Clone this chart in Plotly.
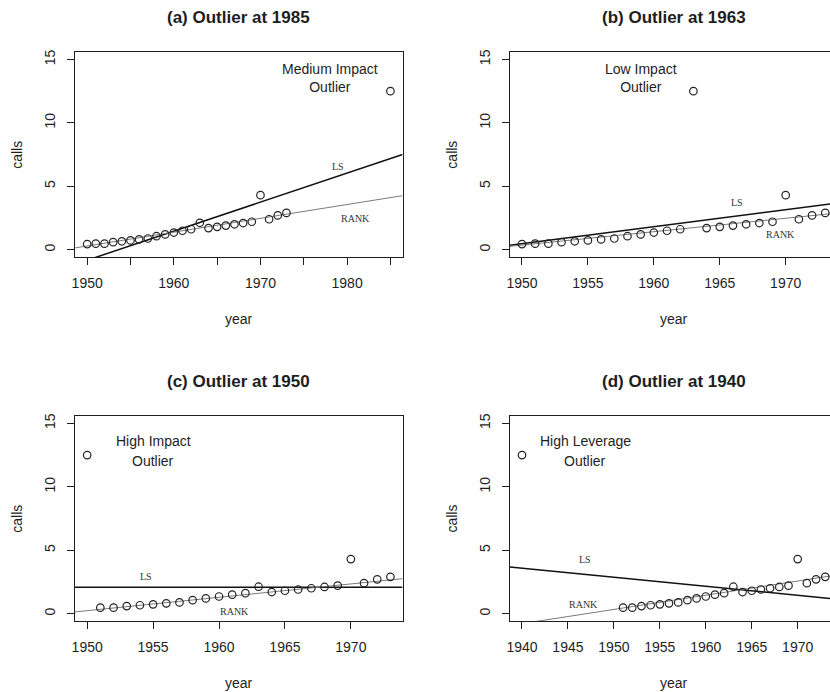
import numpy as np
import plotly.graph_objects as go

# ---------------- data ----------------
years = list(range(1950, 1974))
calls = [0.44, 0.47, 0.47, 0.59, 0.66, 0.73, 0.81, 0.88, 1.06, 1.20, 1.35, 1.49,
         1.61, 2.12, 1.70, 1.80, 1.90, 2.00, 2.10, 2.20, 4.30, 2.40, 2.70, 2.90]
outlier_calls = 12.5
panel_titles = ["(a) Outlier at 1985", "(b) Outlier at 1963",
                "(c) Outlier at 1950", "(d) Outlier at 1940"]
outlier_year = [1985, 1963, 1950, 1940]
dropped_year = [None, 1963, 1950, 1950]
note_line1 = ["Medium Impact", "Low Impact", "High Impact", "High Leverage"]
note_line2 = ["Outlier", "Outlier", "Outlier", "Outlier"]
# rank-based fit: value at 1950 and slope
rank_at_1950 = [0.29, 0.36, 0.23, 0.33]
rank_slope = [0.109, 0.1057, 0.1055, 0.112]
x_tickvals = [[1950, 1955, 1960, 1965, 1970, 1975, 1980, 1985],
              [1950, 1955, 1960, 1965, 1970],
              [1950, 1955, 1960, 1965, 1970],
              [1940, 1945, 1950, 1955, 1960, 1965, 1970]]
x_ticktext = [["1950", "", "1960", "", "1970", "", "1980", ""],
              ["1950", "1955", "1960", "1965", "1970"],
              ["1950", "1955", "1960", "1965", "1970"],
              ["1940", "1945", "1950", "1955", "1960", "1965", "1970"]]
y_tickvals = [0, 5, 10, 15]
y_ticktext = ["0", "5", "10", "15"]

# ---------------- layout geometry (pixels) ----------------
W, H = 830, 692
panel_w = 328.7
lefts = [72.3, 508.7, 72.3, 508.7]
tops = [50, 50, 415, 415]
panel_h = 206
# label positions in data coords
note_pos = [(1978.07, 14.08, 13.0), (1959.0, 14.08, 13.0),
            (1955.0, 13.6, 12.0), (1946.9, 13.6, 12.0)]
note_joined = [True, True, False, False]
ls_pos = [(1978.9, 6.55), (1966.3, 3.74), (1954.5, 2.93), (1946.9, 4.25)]
rank_pos = [(1981.0, 2.43), (1969.6, 1.23), (1961.2, 0.13), (1946.65, 0.71)]

SANS = "Liberation Sans, Arial, Helvetica, sans-serif"
SERIF = "Liberation Serif, Times New Roman, serif"
INK = "#1e1e1e"

fig = go.Figure()
annotations = []

for i in range(4):
    # panel data
    px_, py_ = [], []
    for yr, c in zip(years, calls):
        if yr == dropped_year[i]:
            continue
        px_.append(yr)
        py_.append(c)
    px_.append(outlier_year[i])
    py_.append(outlier_calls)
    xs = np.array(px_, dtype=float)
    ys = np.array(py_, dtype=float)

    # R-style ranges (4% expansion)
    lo, hi = xs.min(), xs.max()
    pad = 0.04 * (hi - lo)
    r_lo, r_hi = lo - pad, hi + pad
    left_px = lefts[i]
    right_px = min(left_px + panel_w, W)
    vis = (right_px - left_px) / panel_w
    x_range = [r_lo, r_lo + (r_hi - r_lo) * vis]
    y_range = [-0.6, 15.6]

    sfx = "" if i == 0 else str(i + 1)
    xa, ya = "x" + sfx, "y" + sfx

    # least squares fit
    b1, b0 = np.polyfit(xs, ys, 1)
    line_x = np.array([r_lo, r_hi])
    fig.add_trace(go.Scatter(x=line_x, y=b0 + b1 * line_x, mode="lines",
                             line=dict(color="#111111", width=1.5),
                             xaxis=xa, yaxis=ya, showlegend=False, hoverinfo="skip"))
    # rank fit
    fig.add_trace(go.Scatter(x=line_x, y=rank_at_1950[i] + rank_slope[i] * (line_x - 1950),
                             mode="lines", line=dict(color="#7a7a7a", width=1),
                             xaxis=xa, yaxis=ya, showlegend=False, hoverinfo="skip"))
    # points
    fig.add_trace(go.Scatter(x=xs, y=ys, mode="markers",
                             marker=dict(symbol="circle-open", size=7.5,
                                         color="#222222", line=dict(width=1.2)),
                             xaxis=xa, yaxis=ya, showlegend=False, cliponaxis=False))

    dom_x = [left_px / W, right_px / W]
    dom_y = [1 - (tops[i] + panel_h) / H, 1 - tops[i] / H]
    right_panel = i in (1, 3)
    axis_common = dict(showline=True, linecolor=INK, linewidth=1,
                       ticks="outside", ticklen=7, tickwidth=1, tickcolor=INK,
                       showgrid=False, zeroline=False,
                       tickfont=dict(family=SANS, size=14, color=INK))
    fig.update_layout(**{
        "xaxis" + sfx: dict(domain=dom_x, range=x_range, anchor=ya, mirror=True,
                            tickmode="array", tickvals=x_tickvals[i],
                            ticktext=x_ticktext[i], ticklabelstandoff=6,
                            **axis_common),
        "yaxis" + sfx: dict(domain=dom_y, range=y_range, anchor=xa,
                            mirror=not right_panel,
                            tickmode="array", tickvals=y_tickvals,
                            ticktext=y_ticktext, tickangle=-90,
                            ticklabelstandoff=6, **axis_common),
    })

    cx = left_px + panel_w / 2
    # panel title
    annotations.append(dict(text="<b>" + panel_titles[i] + "</b>", xref="paper", yref="paper",
                            x=cx / W, y=1 - (tops[i] - 34.5) / H, showarrow=False,
                            xanchor="center", yanchor="middle",
                            font=dict(family=SANS, size=17, color=INK)))
    # axis titles
    annotations.append(dict(text="year", xref="paper", yref="paper",
                            x=cx / W, y=1 - (tops[i] + panel_h + 61.7) / H,
                            showarrow=False, xanchor="center", yanchor="middle",
                            font=dict(family=SANS, size=14, color=INK)))
    annotations.append(dict(text="calls", xref="paper", yref="paper",
                            x=(left_px - 59) / W, y=1 - (tops[i] + panel_h / 2) / H,
                            showarrow=False, xanchor="center", yanchor="middle",
                            textangle=-90, font=dict(family=SANS, size=14, color=INK)))
    # notes
    nx, ny1, ny2 = note_pos[i]
    if note_joined[i]:
        annotations.append(dict(text=note_line1[i] + "<br>" + note_line2[i],
                                xref=xa, yref=ya, x=nx, y=(ny1 + ny2) / 2,
                                showarrow=False, xanchor="center", yanchor="middle",
                                align="center",
                                font=dict(family=SANS, size=14, color=INK)))
    else:
        annotations.append(dict(text=note_line1[i], xref=xa, yref=ya, x=nx, y=ny1,
                                showarrow=False, xanchor="center", yanchor="middle",
                                font=dict(family=SANS, size=14, color=INK)))
        annotations.append(dict(text=note_line2[i], xref=xa, yref=ya, x=nx, y=ny2,
                                showarrow=False, xanchor="center", yanchor="middle",
                                font=dict(family=SANS, size=14, color=INK)))
    annotations.append(dict(text="LS", xref=xa, yref=ya, x=ls_pos[i][0], y=ls_pos[i][1],
                            showarrow=False, xanchor="center", yanchor="middle",
                            font=dict(family=SERIF, size=10, color="#333333")))
    annotations.append(dict(text="RANK", xref=xa, yref=ya, x=rank_pos[i][0], y=rank_pos[i][1],
                            showarrow=False, xanchor="center", yanchor="middle",
                            font=dict(family=SERIF, size=10, color="#333333")))

fig.update_layout(width=W, height=H, margin=dict(l=0, r=0, t=0, b=0),
                  paper_bgcolor="white", plot_bgcolor="white",
                  annotations=annotations, showlegend=False)

fig.write_html("out.html")
